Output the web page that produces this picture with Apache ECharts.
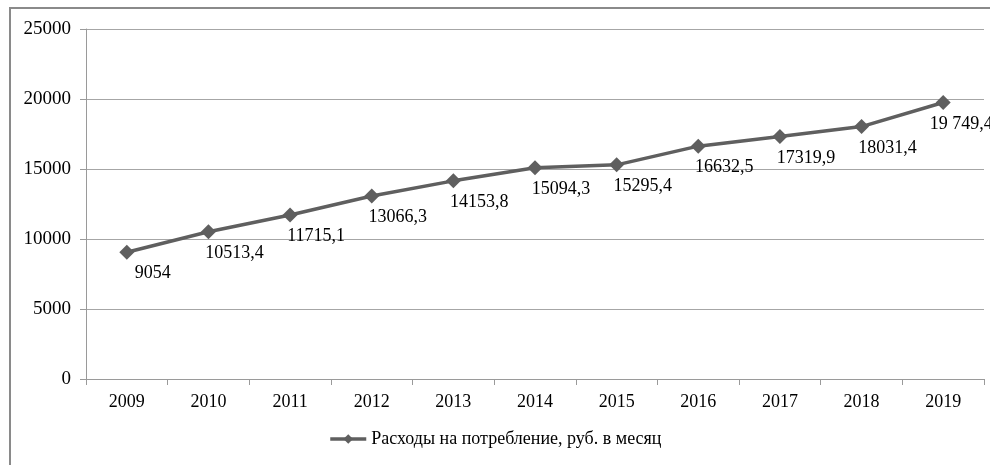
<!DOCTYPE html>
<html>
<head>
<meta charset="utf-8">
<script src="https://cdn.jsdelivr.net/npm/echarts@6/dist/echarts.min.js"></script>
<style>
  html, body { margin: 0; padding: 0; background: #fff; }
  #chart { width: 990px; height: 465px; }
</style>
</head>
<body>
<div id="chart"></div>
<script>
// данные с графика
var years = ["2009", "2010", "2011", "2012", "2013", "2014", "2015", "2016", "2017", "2018", "2019"];
var spending = [9054, 10513.4, 11715.1, 13066.3, 14153.8, 15094.3, 15295.4, 16632.5, 17319.9, 18031.4, 19749.4];
var pointLabels = ["9054", "10513,4", "11715,1", "13066,3", "14153,8", "15094,3", "15295,4", "16632,5", "17319,9", "18031,4", "19 749,4"];
var yTicks = [0, 5000, 10000, 15000, 20000, 25000];
var seriesName = "Расходы на потребление, руб. в месяц";

var font = "'Liberation Serif', 'Times New Roman', serif";
var chart = echarts.init(document.getElementById("chart"));

var lineColor = "#5f5f5f";

// последняя подпись сдвинута левее, чтобы поместиться в кадр
var seriesData = spending.map(function (v, i) {
  var item = { value: v };
  if (i === spending.length - 1) {
    item.label = { offset: [18, 0] };
  }
  return item;
});

var option = {
  animation: false,
  backgroundColor: "#fff",
  textStyle: { fontFamily: font, color: "#000" },
  graphic: [
    {
      type: "rect",
      shape: { x: 10, y: 8, width: 1100, height: 600 },
      style: { fill: "none", stroke: "#8a8a8a", lineWidth: 2 },
      silent: true
    }
  ],
  grid: { left: 86, top: 29, right: 6, bottom: 86 },
  legend: {
    bottom: 12,
    left: "center",
    itemWidth: 36,
    itemHeight: 12,
    itemGap: 2,
    lineStyle: { width: 3.5, color: lineColor },
    itemStyle: { color: lineColor },
    textStyle: { fontFamily: font, fontSize: 18, color: "#000" },
    data: [seriesName]
  },
  xAxis: {
    type: "category",
    data: years,
    boundaryGap: true,
    axisLine: { lineStyle: { color: "#9a9a9a", width: 1 } },
    axisTick: { show: true, length: 6, alignWithLabel: false, lineStyle: { color: "#9a9a9a" } },
    axisLabel: { fontFamily: font, fontSize: 18, color: "#000", margin: 14 }
  },
  yAxis: {
    type: "value",
    min: yTicks[0],
    max: yTicks[yTicks.length - 1],
    interval: 5000,
    axisLine: { show: true, lineStyle: { color: "#9a9a9a", width: 1 } },
    axisTick: { show: true, length: 6, lineStyle: { color: "#9a9a9a" } },
    axisLabel: {
      fontFamily: font,
      fontSize: 19,
      color: "#000",
      margin: 15,
      formatter: function (v) { return String(v); }
    },
    splitLine: { show: true, lineStyle: { color: "#a6a6a6", width: 1 } }
  },
  series: [
    {
      name: seriesName,
      type: "line",
      data: seriesData,
      symbol: "diamond",
      symbolSize: 15,
      lineStyle: { color: lineColor, width: 3.5 },
      itemStyle: { color: lineColor },
      label: {
        show: true,
        position: "bottom",
        distance: 5,
        offset: [26, 0],
        fontFamily: font,
        fontSize: 18,
        color: "#000",
        formatter: function (p) { return pointLabels[p.dataIndex]; }
      }
    }
  ]
};

chart.setOption(option);
</script>
</body>
</html>
